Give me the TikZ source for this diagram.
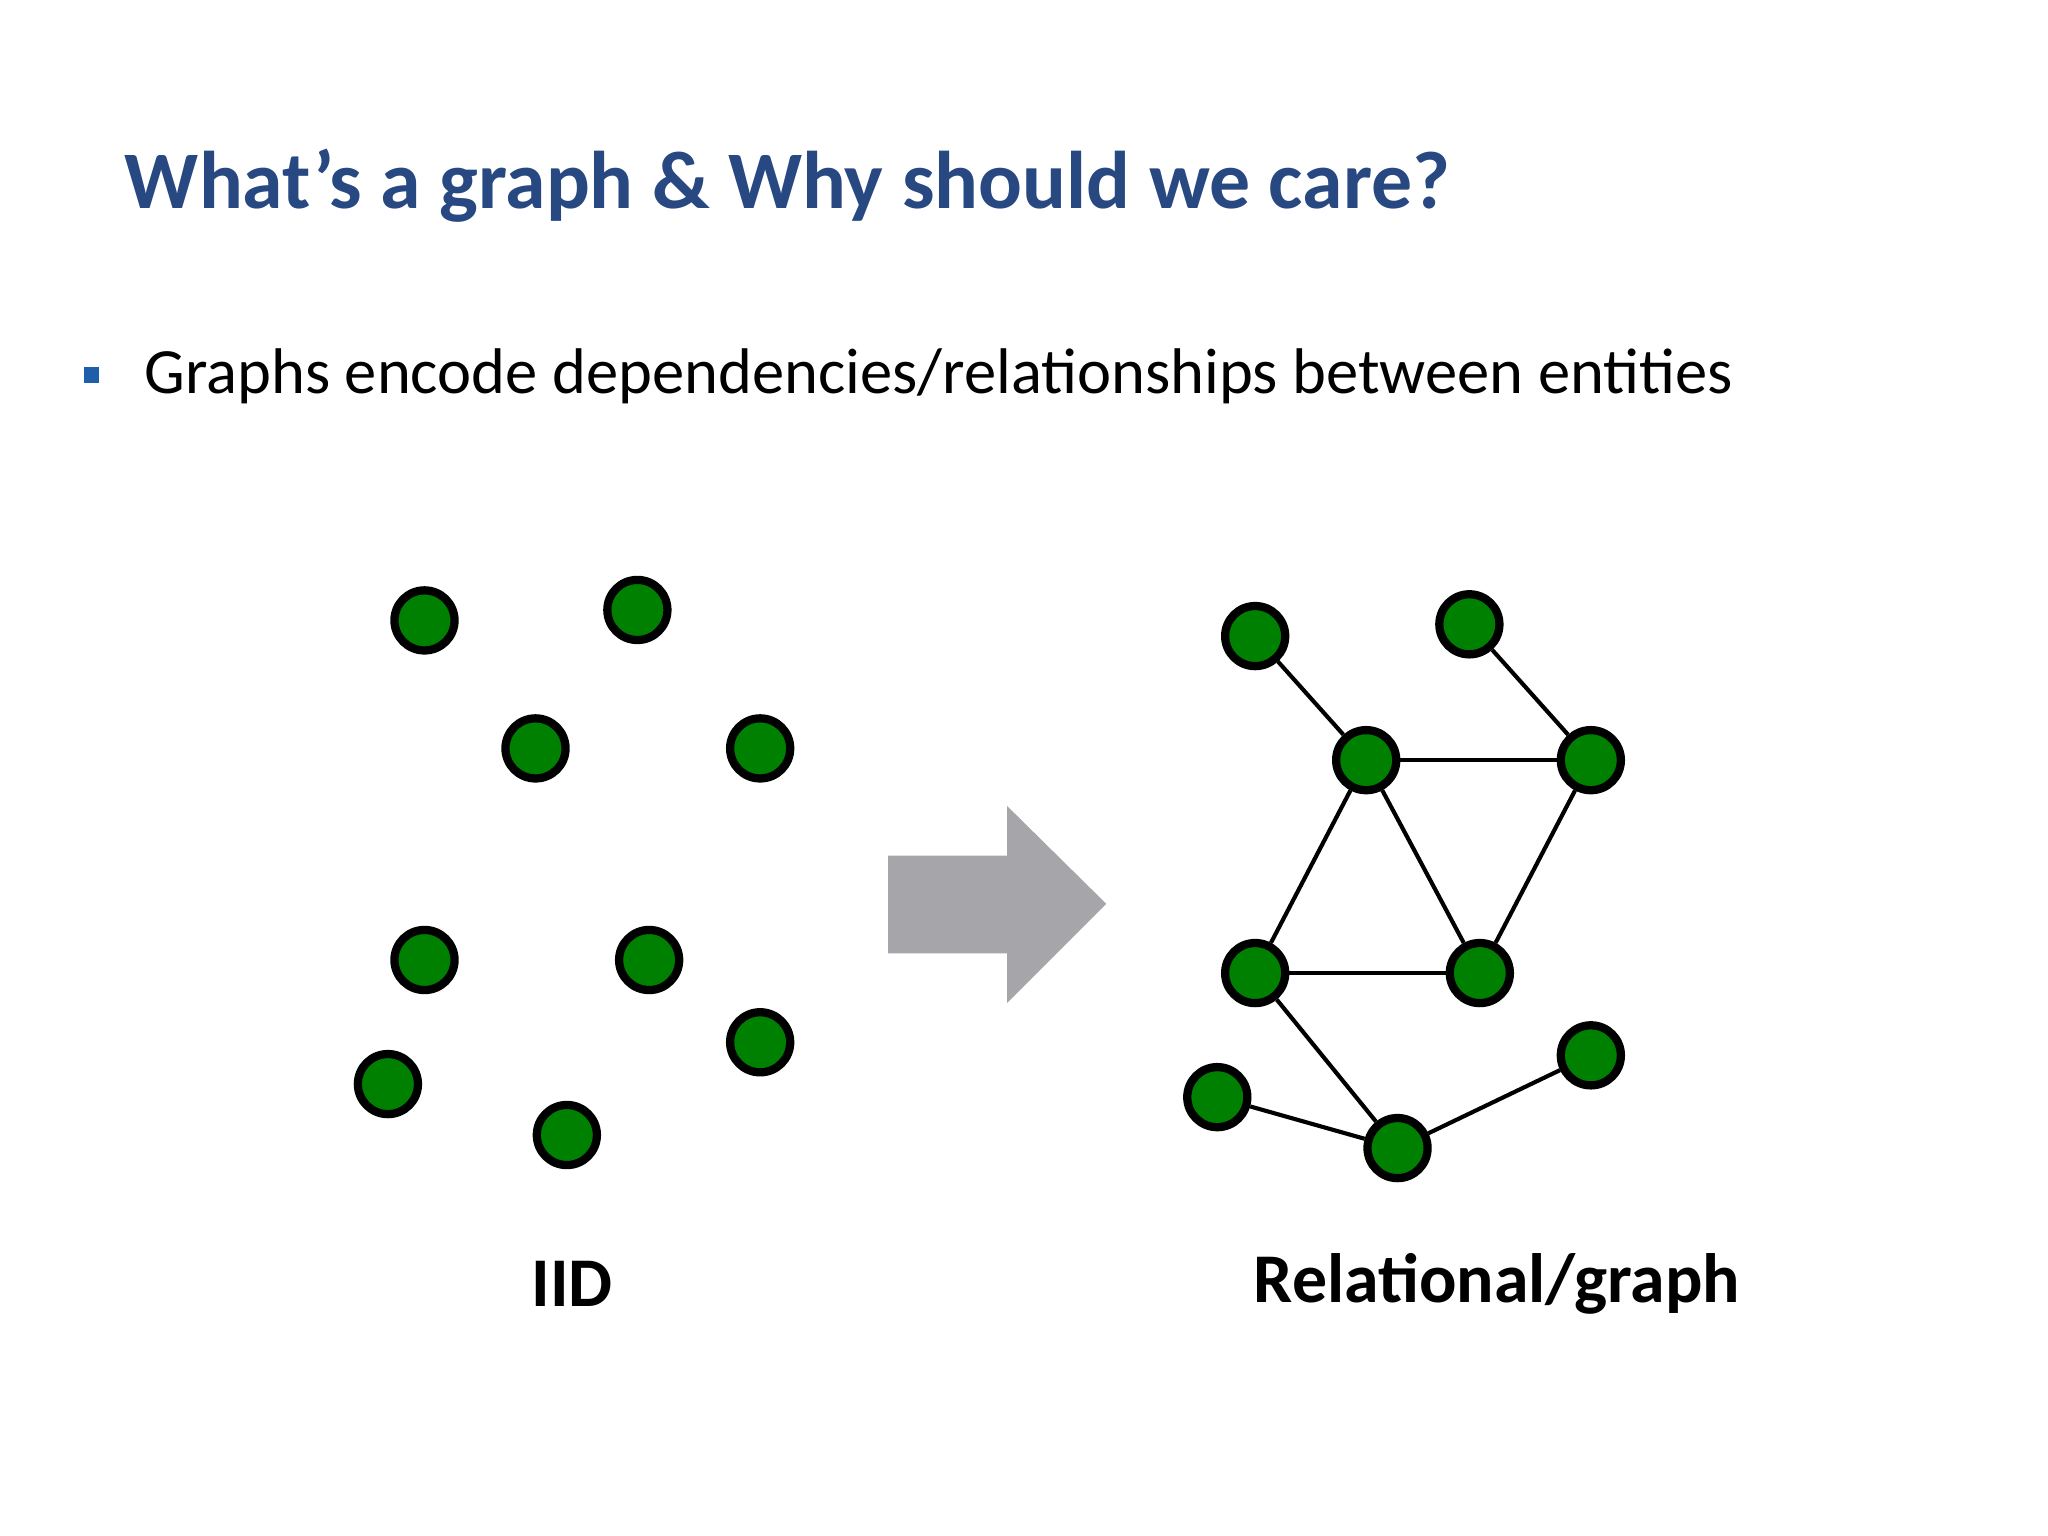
\documentclass[tikz,border=0pt]{standalone}
\usepackage{fontspec}
\setmainfont{Carlito}
\begin{document}
\begin{tikzpicture}[x=0.01cm,y=-0.01cm,
  vtx/.style={circle,draw=black,line width=1.8pt,fill={rgb,255:red,0;green,128;blue,0},minimum size=0.46cm,inner sep=0pt},
  edge/.style={line width=0.9pt}]
\useasboundingbox (0,0) rectangle (1568,1176);
\definecolor{titleblue}{RGB}{40,72,130}
\definecolor{bulletblue}{RGB}{31,95,170}
\definecolor{arrowgray}{RGB}{166,166,170}
\node[anchor=base west,inner sep=0pt,text=titleblue,font=\fontsize{17.8}{22}\selectfont\bfseries] (title) at (95,160) {What’s a graph \& Why should we care?};
\node[fill=bulletblue,minimum size=0.12cm,inner sep=0pt] (bul) at (70,287) {};
\node[anchor=base west,inner sep=0pt,font=\fontsize{14.05}{18}\selectfont] (txt) at (110,301) {Graphs encode dependencies/relationships between entities};
% left nodes
\foreach \n/\x/\y in {l1/325/475,l2/488/467,l3/410/573,l4/582/573,l5/325/735,l6/497/735,l7/582/798,l8/297/830,l9/434/869}
  \node[vtx] (\n) at (\x,\y) {};
% arrow
\fill[arrowgray] (680,655) -- (771,655) -- (771,617) -- (847,692) -- (771,768) -- (771,730) -- (680,730) -- cycle;
% right nodes
\foreach \n/\x/\y in {a/961/487,b/1125/478,c/1046/582,d/1218/582,e/961/745,f/1133/745,g/1218/808,h/932/840,i/1070/879}
  \node[vtx] (\n) at (\x,\y) {};
\foreach \u/\v in {a/c,b/d,c/d,c/e,c/f,d/f,e/f,e/i,h/i,i/g}
  \draw[edge] (\u) -- (\v);
\node[font=\fontsize{15.2}{19}\selectfont\bfseries] (iid) at (438,983) {IID};
\node[font=\fontsize{15.2}{19}\selectfont\bfseries] (rel) at (1146,983) {Relational/graph};
\end{tikzpicture}
\end{document}
